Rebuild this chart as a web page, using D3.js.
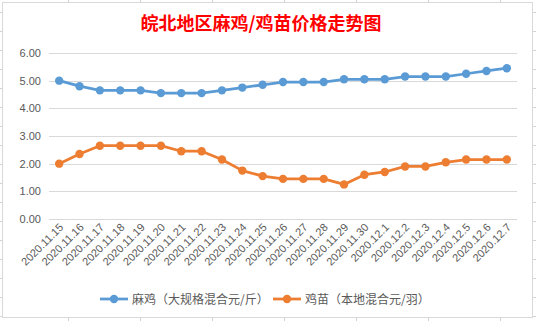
<!DOCTYPE html>
<html><head><meta charset="utf-8">
<script src="https://cdn.jsdelivr.net/npm/d3@7"></script>
<style>body{margin:0;background:#fff;}svg{display:block;}</style>
</head><body>
<script>
const categories = ["2020.11.15","2020.11.16","2020.11.17","2020.11.18","2020.11.19","2020.11.20","2020.11.21","2020.11.22","2020.11.23","2020.11.24","2020.11.25","2020.11.26","2020.11.27","2020.11.28","2020.11.29","2020.11.30","2020.12.1","2020.12.2","2020.12.3","2020.12.4","2020.12.5","2020.12.6","2020.12.7"];
const maJi = [5.0,4.8,4.65,4.65,4.65,4.55,4.55,4.55,4.65,4.75,4.85,4.95,4.95,4.95,5.05,5.05,5.05,5.15,5.15,5.15,5.25,5.35,5.45];
const jiMiao = [2.0,2.35,2.65,2.65,2.65,2.65,2.45,2.45,2.15,1.75,1.55,1.45,1.45,1.45,1.25,1.6,1.7,1.9,1.9,2.05,2.15,2.15,2.15];
const yTicks = [0,1,2,3,4,5,6];
const seriesNames = ["麻鸡（大规格混合元/斤）","鸡苗（本地混合元/羽）"];
const title = "皖北地区麻鸡/鸡苗价格走势图";
const colors = ["#5B9BD5","#ED7D31"];

const W = 536, H = 321;
const svg = d3.select("body").append("svg").attr("width", W).attr("height", H);

// spreadsheet gridlines behind the chart object
const colLines = [68,140,212,284,356,428,500];
const rowLines = d3.range(12, 330, 19);
svg.selectAll(".cl").data(colLines).enter().append("line")
  .attr("x1", d=>d+0.5).attr("x2", d=>d+0.5).attr("y1",0).attr("y2",H)
  .attr("stroke","#D4D4D4");
svg.selectAll(".rl").data(rowLines).enter().append("line")
  .attr("y1", d=>d+0.5).attr("y2", d=>d+0.5).attr("x1",0).attr("x2",W)
  .attr("stroke","#D4D4D4");
svg.append("rect").attr("x",2.5).attr("y",2.5).attr("width",530).attr("height",315)
  .attr("fill","#fff").attr("stroke","#D9D9D9");

const x = d3.scaleBand().domain(categories).range([49, 517]);
const y = d3.scaleLinear().domain([0,6]).range([219, 53]);

// gridlines
svg.append("g").selectAll("line").data(yTicks).enter().append("line")
  .attr("x1", 49).attr("x2", 517)
  .attr("y1", d=>Math.round(y(d))+0.5).attr("y2", d=>Math.round(y(d))+0.5)
  .attr("stroke","#D9D9D9").attr("stroke-width",1);

// y axis labels
const yAxis = d3.axisLeft(y).tickValues(yTicks).tickFormat(d3.format(".2f")).tickSize(0).tickPadding(0);
const gy = svg.append("g").attr("transform","translate(41,0)").call(yAxis);
gy.select(".domain").remove();
gy.selectAll("text").attr("fill","#595959").style("font-family","'Liberation Sans', Arial, sans-serif").style("font-size","11px");

// x axis labels
const xAxis = d3.axisBottom(x).tickSize(0).tickPadding(0);
const gx = svg.append("g").attr("transform","translate(0,219)").call(xAxis);
gx.select(".domain").remove();
gx.selectAll("text")
  .attr("text-anchor","end")
  .attr("dy", null).attr("y", null)
  .attr("transform","translate(5,9) rotate(-45)")
  .attr("fill","#595959")
  .style("font-family","'Liberation Sans', Arial, sans-serif").style("font-size","11px");

// series
const series = [maJi, jiMiao];
series.forEach((vals, i) => {
  const line = d3.line().x((d,j)=>x(categories[j]) + x.bandwidth()/2).y(d=>y(d));
  svg.append("path").datum(vals).attr("d", line)
    .attr("fill","none").attr("stroke",colors[i]).attr("stroke-width",2.75)
    .attr("stroke-linejoin","round").attr("stroke-linecap","round");
  svg.append("g").selectAll("circle").data(vals).enter().append("circle")
    .attr("cx",(d,j)=>x(categories[j]) + x.bandwidth()/2).attr("cy", d=>y(d))
    .attr("r",4.2).attr("fill",colors[i]);
});

// title
svg.append("text").attr("x",261).attr("y",30).attr("text-anchor","middle")
  .attr("fill","#FF0000").style("font-family","'Noto Sans CJK SC', sans-serif")
  .style("font-size","18px").style("font-weight","bold").text(title);

// legend
const legendX = [100, 273];
seriesNames.forEach((name,i) => {
  const g = svg.append("g").attr("transform",`translate(${legendX[i]},299)`);
  g.append("line").attr("x1",0).attr("x2",28).attr("y1",0).attr("y2",0)
    .attr("stroke",colors[i]).attr("stroke-width",2.75);
  g.append("circle").attr("cx",14).attr("cy",0).attr("r",4.2).attr("fill",colors[i]);
  g.append("text").attr("x",32).attr("y",4.5).attr("fill","#595959")
    .style("font-family","'Noto Sans CJK SC', sans-serif").style("font-size","12px").text(name);
});
</script>
</body></html>
